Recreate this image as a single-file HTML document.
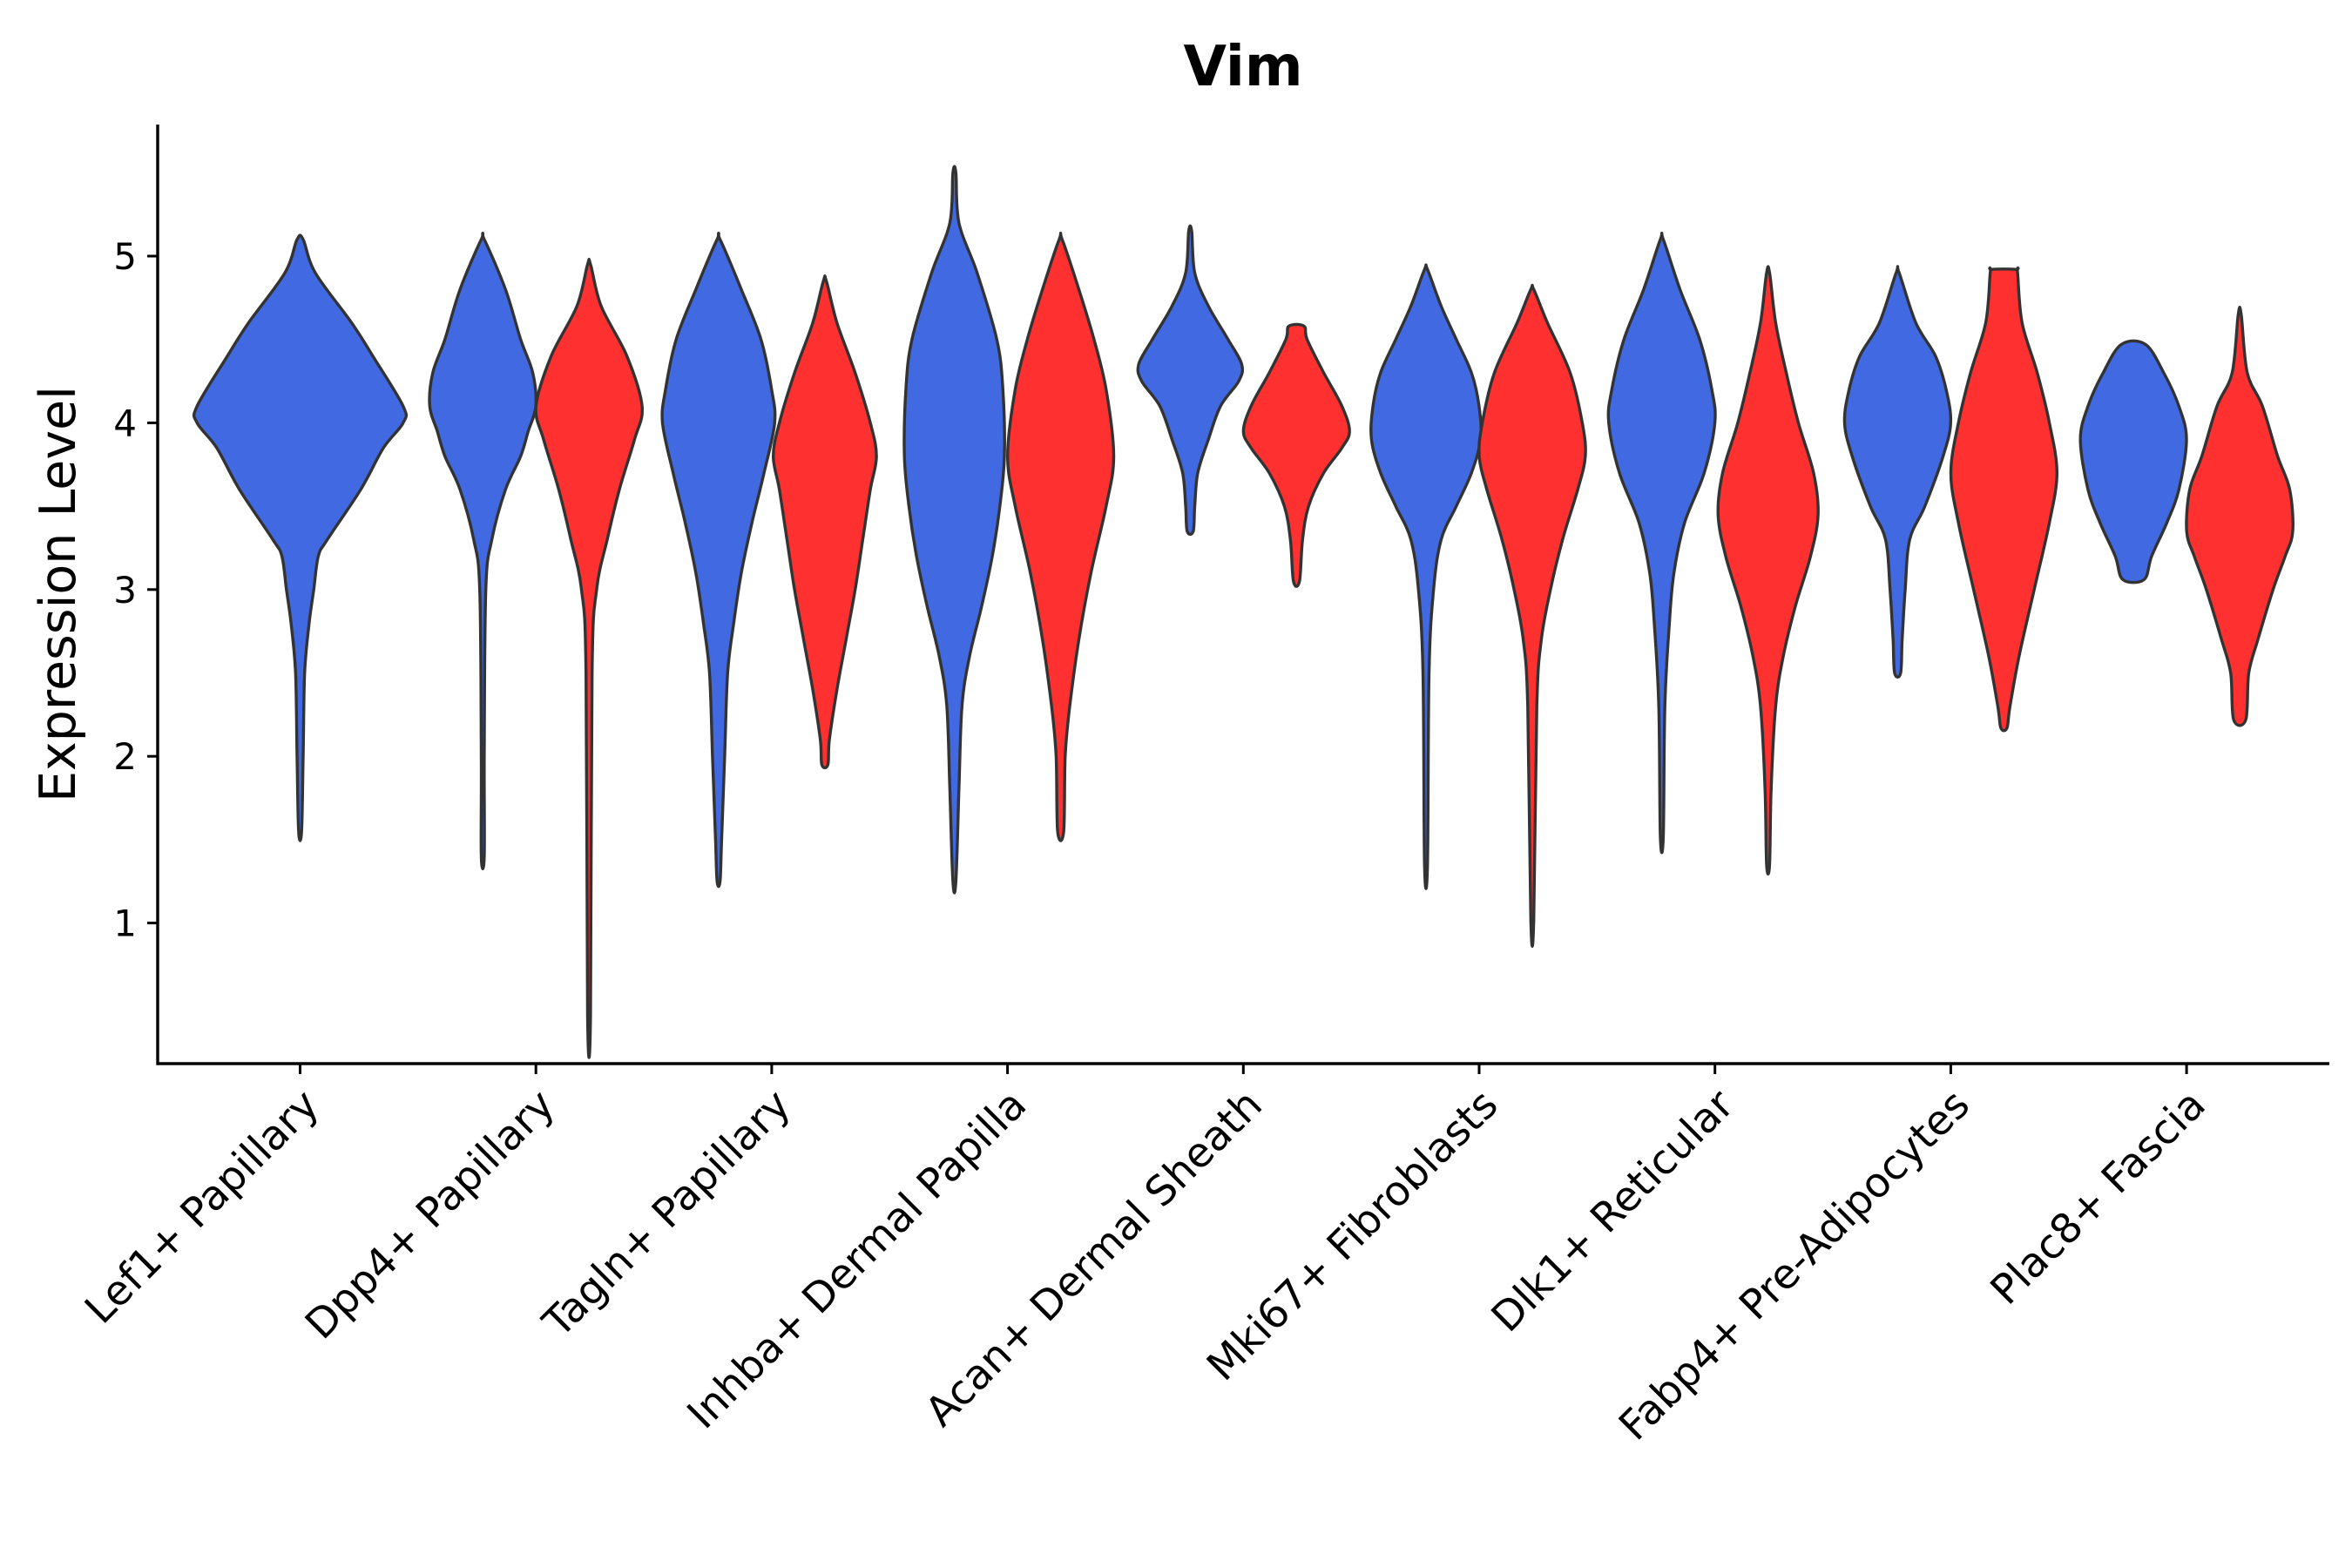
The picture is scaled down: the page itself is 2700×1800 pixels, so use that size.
<!DOCTYPE html>
<html><head><meta charset="utf-8"><style>
html,body{margin:0;padding:0;background:#fff;}
svg{display:block;font-family:"DejaVu Sans","Liberation Sans",sans-serif;}
</style></head><body>
<svg id="chart" width="2700" height="1800" viewBox="0 0 2700 1800">
<text x="1427" y="98" font-size="64" font-weight="bold" text-anchor="middle">Vim</text>
<text transform="translate(86,682) rotate(-90)" font-size="57" text-anchor="middle">Expression Level</text>
<g id="plot"></g>
</svg>
<script>
const categories = ["Lef1+ Papillary","Dpp4+ Papillary","Tagln+ Papillary","Inhba+ Dermal Papilla","Acan+ Dermal Sheath","Mki67+ Fibroblasts","Dlk1+ Reticular","Fabp4+ Pre-Adipocytes","Plac8+ Fascia"];
const yTicks = [1,2,3,4,5];
const groups = ["blue","red"];
const vLef1B_vals = [5.1,4.9,4.6,4.4,4.1,4.0,3.85,3.6,3.3,3.2,3.0,2.8,2.5,2.0,1.55];
const vLef1B_dens = [2,10,34,48,68,68,55,40,18,12,9,6,3,2,1];
const vDpp4B_vals = [5.1,4.8,4.5,4.3,4.1,3.95,3.8,3.6,3.3,3.0,2.0,1.4];
const vDpp4B_dens = [1,15,25,33,35,30,25,15,6,2,1,1];
const vDpp4R_vals = [4.95,4.7,4.4,4.1,3.9,3.6,3.3,3.0,2.5,0.45];
const vDpp4R_dens = [1,8,25,35,30,20,12,5,2,1];
const vTaglnB_vals = [5.1,4.8,4.5,4.2,4.0,3.7,3.4,3.1,2.8,2.5,2.0,1.5,1.25];
const vTaglnB_dens = [1,15,28,35,37,30,22,15,10,6,4,2,1];
const vTaglnR_vals = [4.85,4.6,4.3,4.0,3.8,3.6,3.3,3.0,2.7,2.4,2.1,1.95];
const vTaglnR_dens = [1,8,20,30,34,30,25,20,14,8,3,2];
const vInhbaB_vals = [5.5,5.2,4.9,4.5,4.2,3.8,3.5,3.2,2.9,2.6,2.3,1.8,1.25];
const vInhbaB_dens = [1,3,15,28,32,33,30,25,18,10,5,3,1];
const vInhbaR_vals = [5.1,4.8,4.5,4.2,3.8,3.5,3.1,2.7,2.3,2.0,1.55];
const vInhbaR_dens = [1,12,22,30,35,30,20,12,6,3,2];
const vAcanB_vals = [5.15,4.9,4.7,4.5,4.35,4.25,4.1,3.9,3.7,3.5,3.35];
const vAcanB_dens = [1,3,12,25,34,32,20,12,5,3,2];
const vAcanR_vals = [4.58,4.5,4.3,4.1,3.95,3.85,3.7,3.5,3.3,3.05];
const vAcanR_dens = [5,7,18,30,35,30,18,8,4,2];
const vMki67B_vals = [4.92,4.7,4.5,4.3,4.1,3.9,3.7,3.5,3.3,3.0,2.5,1.35];
const vMki67B_dens = [1,10,20,30,35,36,30,20,10,5,2,1];
const vMki67R_vals = [4.8,4.6,4.3,4.0,3.8,3.6,3.3,3.0,2.7,2.3,1.02];
const vMki67R_dens = [1,10,25,33,35,30,20,12,6,3,1];
const vDlk1B_vals = [5.1,4.8,4.5,4.2,4.0,3.7,3.4,3.1,2.8,2.3,1.52];
const vDlk1B_dens = [1,12,25,33,35,28,15,8,5,2,1];
const vDlk1R_vals = [4.9,4.6,4.3,4.0,3.7,3.45,3.2,2.9,2.6,2.3,1.8,1.35];
const vDlk1R_dens = [1,5,12,20,30,33,28,18,10,5,2,1];
const vFabp4B_vals = [4.9,4.6,4.4,4.2,4.0,3.8,3.5,3.3,3.0,2.7,2.5];
const vFabp4B_dens = [1,12,25,32,35,30,18,8,5,3,2];
const vFabp4R_vals = [4.92,4.9,4.6,4.3,4.0,3.7,3.4,3.0,2.6,2.3,2.17];
const vFabp4R_dens = [8,9,12,22,30,35,30,20,10,4,2];
const vPlac8B_vals = [4.47,4.3,4.1,3.9,3.6,3.4,3.2,3.06];
const vPlac8B_dens = [8,20,30,35,30,22,12,7];
const vPlac8R_vals = [4.65,4.3,4.1,3.8,3.6,3.35,3.2,3.0,2.7,2.5,2.22];
const vPlac8R_dens = [1,5,15,25,33,35,30,22,12,6,4];

const violins = [
 [0,"single",vLef1B_vals,vLef1B_dens],
 [1,"blue",vDpp4B_vals,vDpp4B_dens],[1,"red",vDpp4R_vals,vDpp4R_dens],
 [2,"blue",vTaglnB_vals,vTaglnB_dens],[2,"red",vTaglnR_vals,vTaglnR_dens],
 [3,"blue",vInhbaB_vals,vInhbaB_dens],[3,"red",vInhbaR_vals,vInhbaR_dens],
 [4,"blue",vAcanB_vals,vAcanB_dens],[4,"red",vAcanR_vals,vAcanR_dens],
 [5,"blue",vMki67B_vals,vMki67B_dens],[5,"red",vMki67R_vals,vMki67R_dens],
 [6,"blue",vDlk1B_vals,vDlk1B_dens],[6,"red",vDlk1R_vals,vDlk1R_dens],
 [7,"blue",vFabp4B_vals,vFabp4B_dens],[7,"red",vFabp4R_vals,vFabp4R_dens],
 [8,"blue",vPlac8B_vals,vPlac8B_dens],[8,"red",vPlac8R_vals,vPlac8R_dens]
];

const NS="http://www.w3.org/2000/svg";
const L=181,R=2674,T=143,B=1221;
const yScale=v=>294+(5-v)*191.4;
const xScale=i=>344.5+i*270.7;
const dScale=d=>d*1.74;
const offset=g=>g==="blue"?-61:(g==="red"?61:0);
const colors={blue:"#4169E1",red:"#FF3030",single:"#4169E1"};
const plot=document.getElementById('plot');
function mk(tag,attrs){const e=document.createElementNS(NS,tag);for(const k in attrs)e.setAttribute(k,attrs[k]);return e;}

violins.forEach((v,idx)=>{
  const [ci,g,vals,dens]=v;
  const cx=xScale(ci)+offset(g);
  const pts=[];
  for(let i=0;i<vals.length;i++)pts.push([cx+dScale(dens[i]),yScale(vals[i])]);
  for(let i=vals.length-1;i>=0;i--)pts.push([cx-dScale(dens[i]),yScale(vals[i])]);
  const n=pts.length;let d="M"+pts[0][0].toFixed(1)+","+pts[0][1].toFixed(1);
  for(let i=0;i<n;i++){
    const p0=pts[(i-1+n)%n],p1=pts[i],p2=pts[(i+1)%n],p3=pts[(i+2)%n];
    const c1=[p1[0]+(p2[0]-p0[0])/6,p1[1]+(p2[1]-p0[1])/6];
    const c2=[p2[0]-(p3[0]-p1[0])/6,p2[1]-(p3[1]-p1[1])/6];
    d+=" C"+c1[0].toFixed(1)+","+c1[1].toFixed(1)+" "+c2[0].toFixed(1)+","+c2[1].toFixed(1)+" "+p2[0].toFixed(1)+","+p2[1].toFixed(1);
  }
  const p=mk('path',{d:d+"Z",fill:colors[g],stroke:"#333",'stroke-width':3.4,'stroke-linejoin':'round'});
  
  
  plot.appendChild(p);
});

const ax=mk('path',{d:`M${L},${T} L${L},${B} L${R},${B}`,fill:"none",stroke:"#000",'stroke-width':3.4});


plot.appendChild(ax);
yTicks.forEach(t=>{
  const y=yScale(t);
  const tk=mk('line',{x1:L-12,x2:L,y1:y,y2:y,stroke:"#000",'stroke-width':3});
  
  
  plot.appendChild(tk);
  const tx=mk('text',{x:L-24,y:y+15,'font-size':42,'text-anchor':'end'});
  tx.textContent=t;
  
  
  plot.appendChild(tx);
});
categories.forEach((c,i)=>{
  const x=xScale(i);
  const tk=mk('line',{x1:x,x2:x,y1:B,y2:B+12,stroke:"#000",'stroke-width':3});
  
  
  plot.appendChild(tk);
  const tx=mk('text',{transform:`translate(${x+24},${B+50}) rotate(-45)`,'font-size':47,'text-anchor':'end'});
  tx.textContent=c;
  
  
  plot.appendChild(tx);
});
</script>
</body></html>
